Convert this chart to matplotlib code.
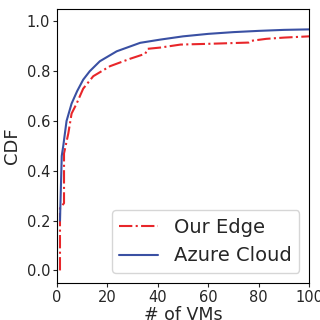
import numpy as np
import seaborn as sns
from matplotlib import pyplot as plt

# CDF of the number of VMs
edge_x = [1.2, 1.2, 2.8, 2.8, 4.5, 5.8, 7.8, 10.4, 14.4, 21, 29, 35, 36, 41, 49, 60, 76, 77, 83, 90, 100]
edge_y = [0.0, 0.25, 0.27, 0.47, 0.55, 0.63, 0.67, 0.73, 0.78, 0.82, 0.85, 0.87, 0.89, 0.895, 0.907, 0.91, 0.915, 0.922, 0.93, 0.935, 0.94]

azure_x = [1.2, 1.9, 2.5, 3.8, 5.8, 8, 10.4, 13, 17, 23.7, 33, 41, 50, 60, 70, 80, 90, 100]
azure_y = [0.2, 0.46, 0.5, 0.6, 0.67, 0.72, 0.766, 0.8, 0.84, 0.88, 0.914, 0.927, 0.94, 0.95, 0.957, 0.962, 0.966, 0.968]

sns.set_style("ticks")

fig, ax = plt.subplots(figsize=(3.2, 3.2), dpi=100)
ax.plot(edge_x, edge_y, color="#e8262a", linestyle="-.", linewidth=1.5, label="Our Edge")
ax.plot(azure_x, azure_y, color="#3a50a3", linestyle="-", linewidth=1.5, label="Azure Cloud")

ax.set_xlim(0, 100)
ax.set_ylim(-0.05, 1.05)
ax.set_xticks([0, 20, 40, 60, 80, 100])
ax.set_yticks([0.0, 0.2, 0.4, 0.6, 0.8, 1.0])
ax.tick_params(labelsize=10.5, length=3, width=0.8, pad=2)
ax.set_xlabel("# of VMs", fontsize=12.5, labelpad=1)
ax.set_ylabel("CDF", fontsize=13, labelpad=4)
for s in ax.spines.values():
    s.set_color("black")
ax.legend(loc="lower right", fontsize=14)

plt.subplots_adjust(left=0.178, right=0.966, bottom=0.116, top=0.972)
plt.savefig("out.png")
